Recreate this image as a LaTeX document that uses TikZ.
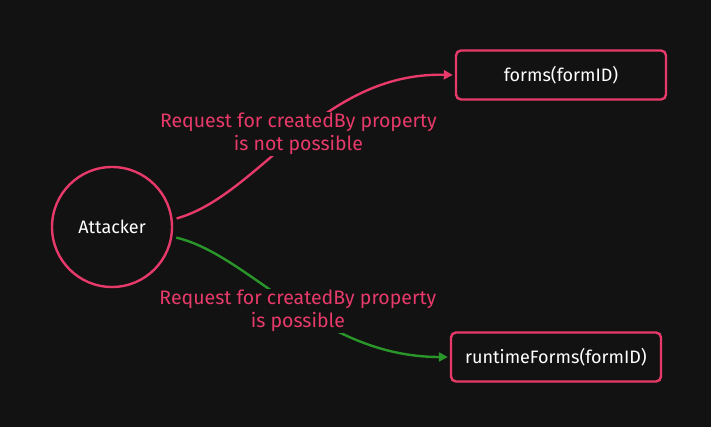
\documentclass[tikz,border=0pt]{standalone}
\usepackage{fontspec}
\setmainfont{Fira Sans}
\usetikzlibrary{arrows.meta}
\definecolor{bg}{RGB}{18,18,18}
\definecolor{pinkc}{RGB}{232,58,106}
\definecolor{greenc}{RGB}{42,150,42}
\tikzset{
  box/.style={draw=pinkc, line width=2.4pt, rounded corners=5pt, minimum width=210pt, minimum height=49pt, text=white, font=\fontsize{18}{21}\selectfont},
  actor/.style={circle, draw=pinkc, line width=2.4pt, minimum size=120pt, text=white, font=\fontsize{18}{21}\selectfont},
  lbl/.style={fill=bg, text=pinkc, align=center, inner sep=1pt, font=\fontsize{19.5}{23}\selectfont},
  conn/.style={line width=2.4pt, -{Triangle[length=9pt,width=9pt]}, shorten >=2pt},
}
\begin{document}
\begin{tikzpicture}[x=1pt,y=-1pt]
\fill[bg] (0,0) rectangle (711,427);
\useasboundingbox (0,0) rectangle (711,427);
\node[actor] (att) at (112,227) {Attacker};
\node[box] (forms) at (561,75) {forms(formID)};
\node[box] (rt) at (556,357) {runtimeForms(formID)};
\draw[conn, pinkc] ([xshift=4pt]att.8) .. controls (260,195) and (320,72) .. (forms.west)
  node[lbl, pos=0.48, xshift=7pt, yshift=7pt] {Request for createdBy property\\is not possible};
\draw[conn, greenc] ([xshift=4pt]att.-10) .. controls (250,255) and (320,357) .. (rt.west)
  node[lbl, pos=0.53, xshift=-2pt, yshift=-2pt] {Request for createdBy property\\is possible};
\end{tikzpicture}
\end{document}
